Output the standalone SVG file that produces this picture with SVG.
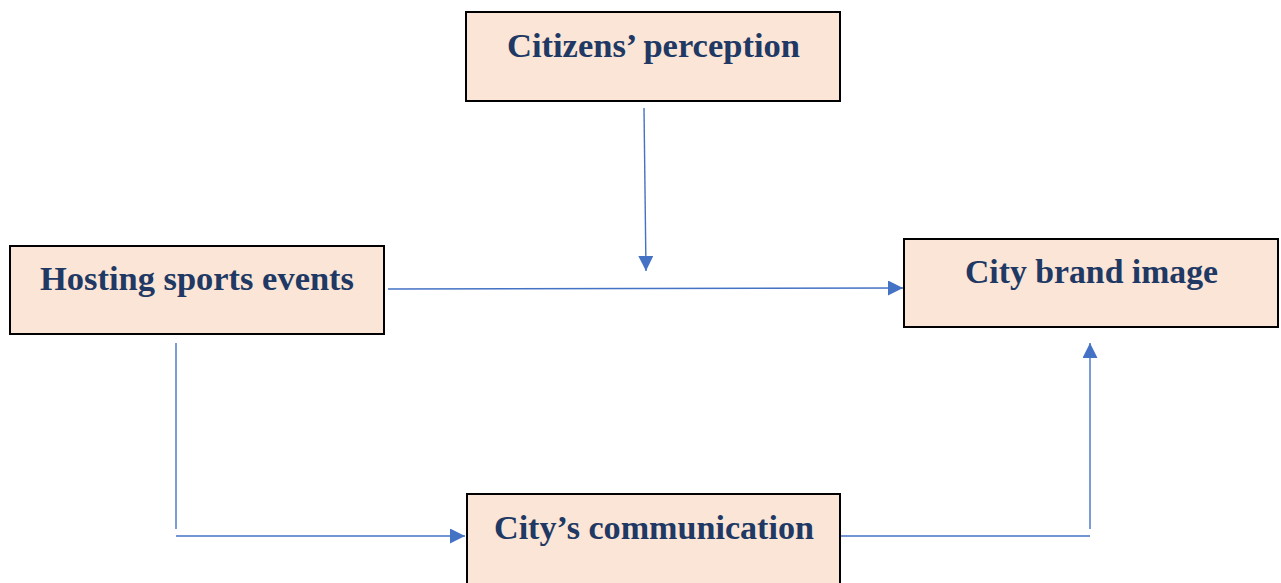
<svg xmlns="http://www.w3.org/2000/svg" width="1281" height="583" viewBox="0 0 1281 583">
<style>
.box{fill:#FBE5D6;stroke:#000;stroke-width:2}
.lbl{font-family:"Liberation Serif","DejaVu Serif",serif;font-weight:bold;font-size:33px;fill:#203864}
.con{stroke:#4472C4;stroke-width:1.4;fill:none}
</style>
<defs>
<marker id="arr" markerUnits="userSpaceOnUse" markerWidth="16" markerHeight="15" refX="15" refY="7.5" orient="auto">
<path d="M0,0 L15,7.5 L0,15 z" fill="#4472C4"/>
</marker>
</defs>
<rect width="1281" height="583" fill="#fff"/>
<g id="connectors">
<line class="con" x1="644" y1="108" x2="646" y2="271" marker-end="url(#arr)"/>
<line class="con" x1="388" y1="289" x2="903" y2="288" marker-end="url(#arr)"/>
<line class="con" x1="176" y1="343" x2="176" y2="529"/>
<line class="con" x1="176" y1="536" x2="465" y2="536" marker-end="url(#arr)"/>
<line class="con" x1="841" y1="536" x2="1090" y2="536"/>
<line class="con" x1="1090" y1="529" x2="1090" y2="343" marker-end="url(#arr)"/>
</g>
<g id="citizens">
<rect class="box" x="466" y="12" width="374" height="89"/>
<text class="lbl" x="507" y="57" textLength="293" lengthAdjust="spacingAndGlyphs">Citizens’ perception</text>
</g>
<g id="hosting">
<rect class="box" x="10" y="246" width="374" height="88"/>
<text class="lbl" x="40" y="290" textLength="314" lengthAdjust="spacingAndGlyphs">Hosting sports events</text>
</g>
<g id="brand">
<rect class="box" x="904" y="239" width="374" height="88"/>
<text class="lbl" x="965" y="283" textLength="253" lengthAdjust="spacingAndGlyphs">City brand image</text>
</g>
<g id="communication">
<rect class="box" x="467" y="494" width="373" height="100"/>
<text class="lbl" x="494" y="539" textLength="320" lengthAdjust="spacingAndGlyphs">City’s communication</text>
</g>
</svg>
